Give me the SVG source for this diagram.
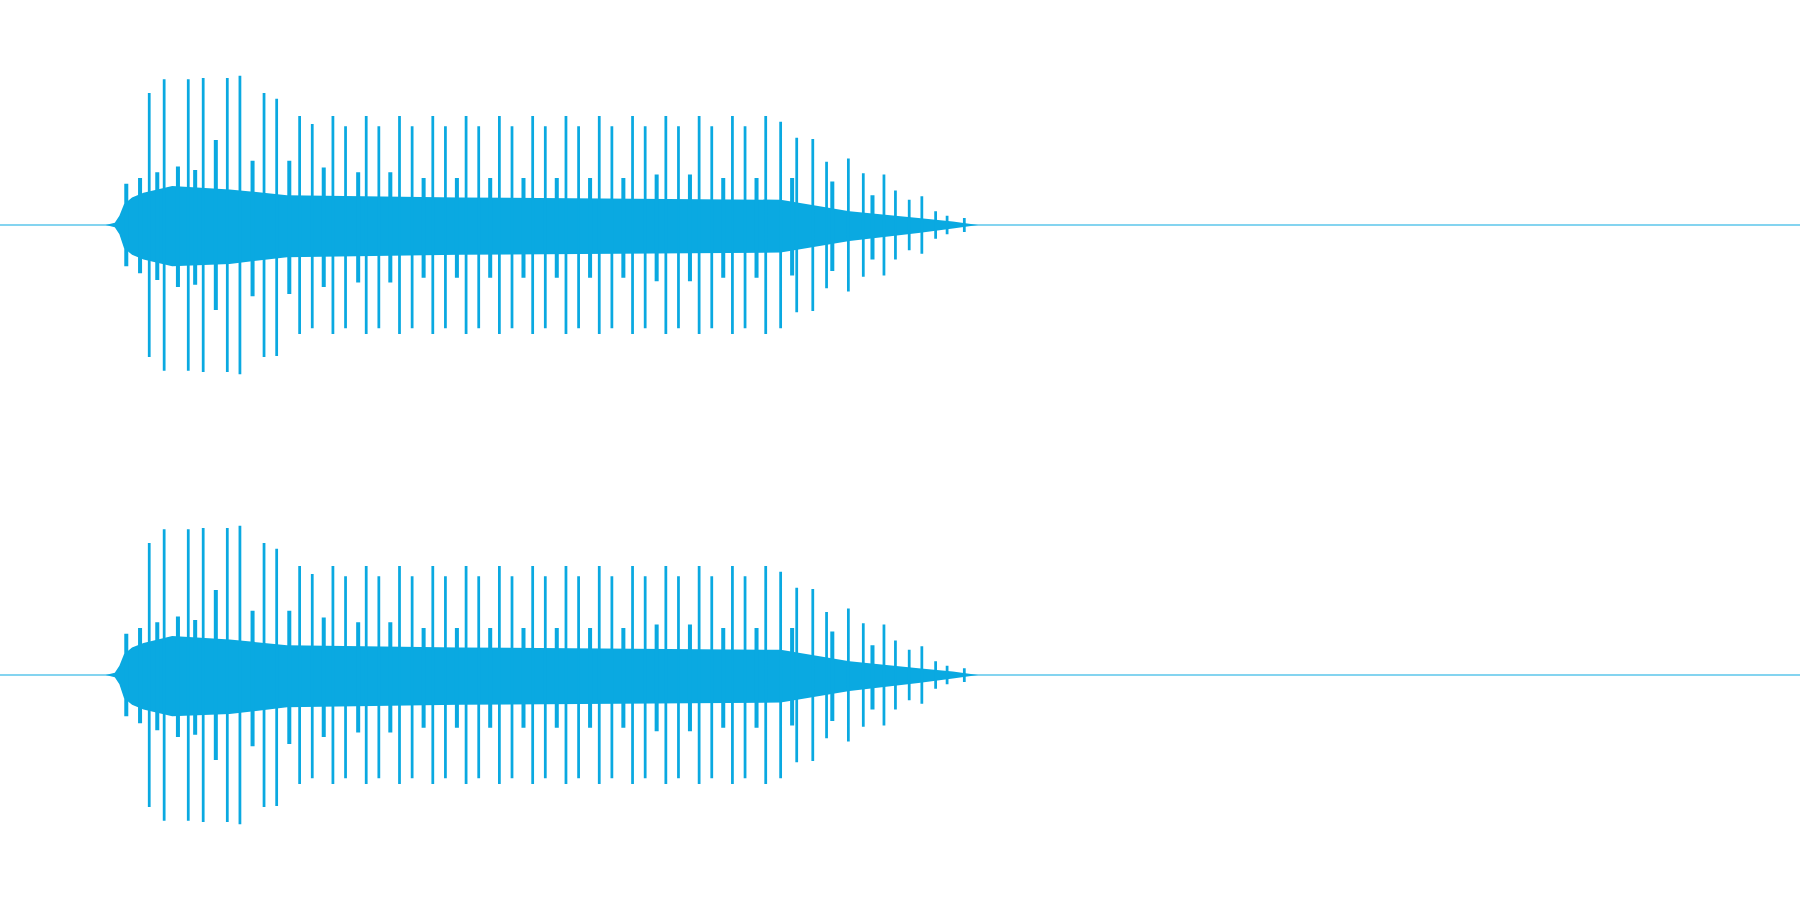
<svg xmlns="http://www.w3.org/2000/svg" width="1800" height="900" viewBox="0 0 1800 900">
<style>.c{stroke:#0aa9e1;fill:none}.b{fill:#0aa9e1}</style>
<defs>
<g id="ch">
<line class="c" x1="0" y1="196" x2="1568" y2="196" stroke-width="1"/>
<polygon class="b" points="92,196 100,194 104,188 108,178 115,172 125,168 150,162 200,165 250,170 400,172 680,174 740,184 800,190 830,193 852,196 830,199 800,203 740,210 680,220 400,222 250,224 200,230 150,232 125,226 115,222 108,216 104,204 100,198"/>
<path class="c" stroke-width="3.5" d="M110,160V232M122,155V238M137,150V244M155,145V250M170,148V248M188,122V270M220,140V258M252,140V256M282,146V250M312,150V246M340,150V246M369,155V242M398,155V242M427,155V242M456,155V242M485,155V242M514,155V242M543,155V242M572,152V245M601,152V245M630,155V242M659,155V242M690,155V240M725,158V236M760,170V226"/>
<path class="c" stroke-width="2.4" d="M130,81V311M143,69V323M164,69V323M177,68V324M198,68V324M209,66V326M230,81V311M241,86V310M261,101V291M272,108V286M290,101V291M301,110V286M319,101V291M330,110V286M348,101V291M359,110V286M377,101V291M388,110V286M406,101V291M417,110V286M435,101V291M446,110V286M464,101V291M475,110V286M493,101V291M504,110V286M522,101V291M533,110V286M551,101V291M562,110V286M580,101V291M591,110V286M609,101V291M620,110V286M638,101V291M649,110V286M667,101V291M680,106V286M694,120V272M708,121V271M720,141V251M739,138V254M752,151V241M770,152V240M780,166V226M792,174V218M803,171V221M815,184V208M825,188V204M840,190V202"/>
</g>
</defs>
<g transform="scale(1.148)">
<use href="#ch"/>
<use href="#ch" transform="translate(0,392)"/>
</g>
</svg>
